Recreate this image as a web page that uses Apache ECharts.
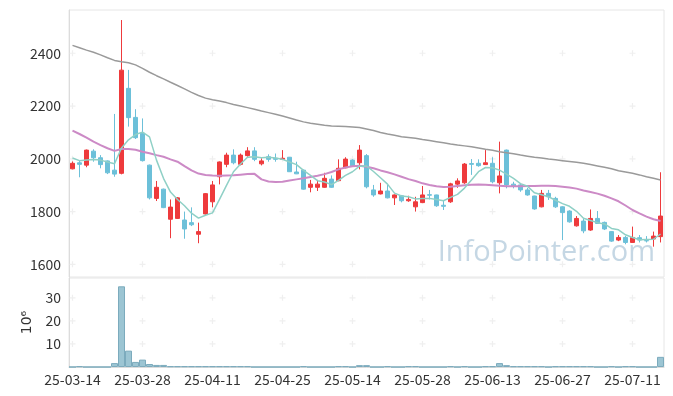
<!DOCTYPE html>
<html>
<head>
<meta charset="utf-8">
<script src="https://cdn.jsdelivr.net/npm/echarts@6/dist/echarts.min.js"></script>
<style>
html,body{margin:0;padding:0;background:#fff;}
#c{width:673px;height:396px;}
</style>
</head>
<body>
<div id="c"></div>
<script>
const dates = ['25-03-14','25-03-17','25-03-18','25-03-19','25-03-20','25-03-21','25-03-24','25-03-25','25-03-26','25-03-27','25-03-28','25-03-31',
'25-04-01','25-04-02','25-04-03','25-04-04','25-04-07','25-04-08','25-04-09','25-04-10','25-04-11','25-04-14','25-04-15','25-04-16','25-04-17','25-04-18',
'25-04-21','25-04-22','25-04-23','25-04-24','25-04-25','25-04-28','25-04-29','25-04-30','25-05-02','25-05-07','25-05-08','25-05-09','25-05-12','25-05-13',
'25-05-14','25-05-15','25-05-16','25-05-19','25-05-20','25-05-21','25-05-22','25-05-23','25-05-26','25-05-27','25-05-28','25-05-29','25-05-30','25-06-02',
'25-06-04','25-06-05','25-06-09','25-06-10','25-06-11','25-06-12','25-06-13','25-06-16','25-06-17','25-06-18','25-06-19','25-06-20','25-06-23','25-06-24',
'25-06-25','25-06-26','25-06-27','25-06-30','25-07-01','25-07-02','25-07-03','25-07-04','25-07-07','25-07-08','25-07-09','25-07-10','25-07-11','25-07-14',
'25-07-15','25-07-16','25-07-17'];

const opens = [1962,1985,1976,2029,2004,1992,1957,1945,2267,2157,2097,1976,1850,1885,1771,1774,1768,1758,1714,1791,
1837,1932,1979,2014,1979,2012,2030,1981,2008,2002,1998,2006,1950,1957,1892,1892,1892,1923,1917,1966,
1995,1985,2012,1882,1867,1878,1852,1860,1841,1818,1834,1864,1863,1824,1837,1904,1909,1982,1983,1978,
1983,1909,2033,1904,1901,1882,1859,1818,1869,1850,1818,1802,1746,1764,1730,1774,1759,1724,1692,1702,
1683,1701,1690,1696,1705];
const closes = [1983,1979,2033,2004,1978,1947,1942,2336,2156,2080,1993,1852,1892,1815,1817,1852,1734,1750,1724,1868,
1901,1988,2014,1985,2014,2030,1998,1992,1998,1998,2002,1951,1943,1885,1904,1904,1926,1892,1964,1999,
1973,2033,1894,1863,1878,1852,1863,1841,1846,1837,1863,1862,1822,1820,1905,1916,1980,1979,1974,1985,
1913,1935,1901,1897,1882,1863,1810,1869,1856,1818,1796,1761,1774,1727,1774,1755,1734,1688,1702,1683,
1702,1692,1689,1707,1783];
const lows = [1960,1930,1968,1989,1964,1942,1932,1941,2122,2075,1990,1846,1840,1813,1699,1772,1697,1745,1680,1788,
1816,1903,1968,1979,1975,2008,1991,1975,1989,1989,1997,1950,1942,1883,1873,1878,1890,1890,1915,1964,
1970,1960,1888,1856,1865,1850,1825,1835,1837,1800,1832,1846,1818,1806,1833,1890,1905,1939,1970,1977,
1907,1869,1888,1888,1875,1860,1807,1816,1844,1814,1692,1758,1743,1718,1727,1753,1730,1685,1688,1676,
1682,1683,1683,1667,1683];
const highs = [1990,1993,2035,2036,2014,1994,2170,2526,2337,2188,2153,1978,1916,1887,1846,1855,1800,1816,1758,1870,
1916,1990,2023,2036,2020,2044,2044,2002,2017,2020,2033,2007,1989,1959,1920,1920,1947,1937,1998,2006,
1998,2052,2018,1901,1909,1901,1865,1863,1860,1856,1897,1882,1864,1844,1909,1926,1984,1999,1998,2033,
2006,2065,2035,1913,1907,1890,1860,1882,1882,1856,1820,1805,1783,1774,1808,1802,1762,1725,1711,1708,
1743,1711,1707,1724,1949];

const ma5 = [2003,1993,1995,1997,1995,1988,1981,2041,2072,2092,2101,2083,1995,1926,1874,1846,1822,1794,1775,1786,
1795,1846,1899,1951,1980,2006,2008,2004,2006,2003,1998,1988,1978,1956,1937,1917,1912,1902,1918,1937,
1951,1972,1973,1952,1928,1904,1870,1859,1856,1848,1850,1850,1846,1841,1854,1865,1889,1920,1951,1967,
1966,1957,1942,1926,1906,1896,1871,1864,1856,1843,1830,1820,1801,1775,1766,1758,1753,1736,1731,1712,
1702,1693,1694,1695,1715];
const ma20 = [2107,2094,2080,2065,2052,2040,2030,2037,2037,2034,2027,2021,2014,2008,1998,1989,1972,1956,1944,1939,
1937,1936,1937,1938,1940,1942,1943,1922,1914,1912,1913,1918,1922,1926,1931,1936,1942,1950,1960,1967,
1972,1974,1970,1964,1956,1949,1941,1932,1923,1916,1907,1901,1896,1893,1894,1897,1900,1902,1903,1902,
1900,1898,1896,1896,1896,1897,1897,1898,1898,1897,1894,1891,1887,1880,1874,1868,1860,1850,1839,1823,
1806,1793,1781,1771,1764];
const ma60 = [2430,2421,2412,2404,2394,2383,2373,2368,2364,2356,2343,2328,2315,2303,2290,2278,2265,2252,2240,2230,
2224,2219,2213,2206,2200,2194,2188,2181,2175,2169,2162,2155,2147,2140,2135,2131,2127,2124,2123,2122,
2121,2119,2113,2107,2100,2094,2089,2084,2081,2078,2073,2069,2065,2061,2056,2052,2049,2046,2041,2036,
2032,2027,2023,2019,2014,2010,2006,2003,1999,1996,1993,1990,1987,1983,1978,1973,1968,1962,1955,1950,
1945,1939,1932,1926,1920];

const volumes = [0,0.3,0,0,0,0,1.7,35,7.1,2.2,3.2,1.3,0.9,0.9,0.3,0.3,0.3,0.3,0.3,0.3,
0.3,0.3,0.3,0.3,0.3,0.3,0,0,0,0,0,0,0,0.3,0,0,0,0,0.3,0.3,
0,0.8,0.8,0,0,0.3,0,0,0.3,0.3,0,0,0,0,0.3,0,0.3,0,0,0.3,
0.3,1.7,0.8,0.3,0.3,0.3,0.3,0.3,0,0.3,0.3,0.3,0.3,0.3,0.3,0,0,0.3,0,0.3,
0.3,0,0,0,4.4];

const priceTicks = [1600,1800,2000,2200,2400];
const volTicks = [10,20,30];
const labelStep = 10;

const candleData = dates.map((d,i)=>[opens[i],closes[i],lows[i],highs[i]]);
const labelIdx = dates.map((d,i)=>i).filter(i=>i%labelStep===0);
const crossMain = [];
labelIdx.forEach(i=>priceTicks.forEach(v=>crossMain.push([i,v])));
const crossVol = [];
labelIdx.forEach(i=>volTicks.forEach(v=>crossVol.push([i,v])));

const plusPath = 'path://M2,0H3V2H5V3H3V5H2V3H0V2H2Z';
const FONT = 'Noto Sans CJK KR';

const chart = echarts.init(document.getElementById('c'), null, {renderer:'canvas'});
chart.setOption({
  animation:false,
  backgroundColor:'#fff',
  textStyle:{fontFamily:FONT},
  grid:[
    {left:69,right:9,top:10,height:267,show:true,borderColor:'#e6e6e6',borderWidth:1,containLabel:false},
    {left:69,right:9,top:278,height:89,show:true,borderColor:'#e6e6e6',borderWidth:1,containLabel:false}
  ],
  xAxis:[
    {type:'category',gridIndex:0,data:dates,boundaryGap:true,axisLine:{show:false},axisTick:{show:false},axisLabel:{show:false},splitLine:{show:false}},
    {type:'category',gridIndex:1,data:dates,boundaryGap:true,axisLine:{show:true,lineStyle:{color:'#dcdcdc'}},axisTick:{show:false},
     axisLabel:{interval:labelStep-1,color:'#333',fontSize:14,fontFamily:FONT,margin:6},splitLine:{show:false}}
  ],
  yAxis:[
    {type:'value',gridIndex:0,min:1552,max:2564,splitNumber:5,axisLine:{show:true,lineStyle:{color:'#dcdcdc'}},axisTick:{show:false},
     axisLabel:{color:'#333',fontSize:14,fontFamily:FONT,margin:8,showMinLabel:false,showMaxLabel:false,formatter:v=>String(v)},splitLine:{show:false}},
    {type:'value',gridIndex:1,min:0,max:38.6,interval:10,axisLine:{show:true,lineStyle:{color:'#dcdcdc'}},axisTick:{show:false},
     axisLabel:{color:'#333',fontSize:14,fontFamily:FONT,margin:8,showMinLabel:false,showMaxLabel:false,formatter:v=>String(v)},splitLine:{show:false},
     name:'10⁶',nameLocation:'middle',nameGap:32,nameRotate:90,nameTextStyle:{color:'#333',fontSize:14,fontFamily:'DejaVu Sans'}}
  ],
  graphic:[
    {type:'text',right:18,top:238,z:0,style:{text:'InfoPointer.com',fill:'rgba(150,182,205,0.55)',font:'29px "Open Sans"'}}
  ],
  series:[
    {type:'scatter',xAxisIndex:0,yAxisIndex:0,data:crossMain,symbol:plusPath,symbolSize:6,itemStyle:{color:'#ebebeb'},silent:true,z:1},
    {type:'scatter',xAxisIndex:1,yAxisIndex:1,data:crossVol,symbol:plusPath,symbolSize:6,itemStyle:{color:'#ebebeb'},silent:true,z:1},
    {type:'candlestick',xAxisIndex:0,yAxisIndex:0,data:candleData,barWidth:5,
     itemStyle:{color:'#ee3a3c',color0:'#6cc0d9',borderColor:'#ee3a3c',borderColor0:'#6cc0d9',borderWidth:1},z:3},
    {type:'line',xAxisIndex:0,yAxisIndex:0,data:ma60,symbol:'none',lineStyle:{color:'#9a9a9a',width:1.5},z:4},
    {type:'line',xAxisIndex:0,yAxisIndex:0,data:ma20,symbol:'none',lineStyle:{color:'#cc8ac6',width:2},z:4},
    {type:'line',xAxisIndex:0,yAxisIndex:0,data:ma5,symbol:'none',lineStyle:{color:'#8fd0c6',width:1.5},z:4},
    {type:'bar',xAxisIndex:1,yAxisIndex:1,data:volumes,barCategoryGap:0,itemStyle:{color:'#9cc5d3',borderColor:'#7cabbd',borderWidth:1},z:3}
  ]
});
</script>
</body>
</html>
